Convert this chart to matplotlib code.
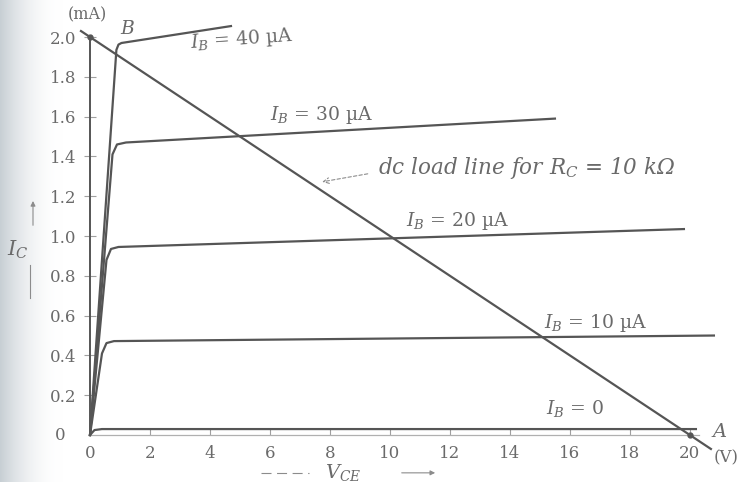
import numpy as np
import matplotlib
matplotlib.use("Agg")
import matplotlib.pyplot as plt

plt.rcParams["font.family"] = ["DejaVu Serif"]
plt.rcParams["mathtext.fontset"] = "dejavuserif"

# Collector characteristics (V_CE in volts, I_C in mA), one curve per base current
ib_labels = ["0", "10", "20", "30", "40"]
curve_v = [
    [0.0, 0.15, 0.4, 20.2],
    [0.0, 0.40, 0.55, 0.8, 20.8],
    [0.0, 0.55, 0.70, 0.95, 19.8],
    [0.0, 0.75, 0.90, 1.2, 15.5],
    [0.0, 0.88, 0.95, 1.05, 4.7],
]
curve_i = [
    [0.0, 0.025, 0.03, 0.03],
    [0.0, 0.41, 0.462, 0.472, 0.50],
    [0.0, 0.88, 0.935, 0.945, 1.035],
    [0.0, 1.41, 1.46, 1.47, 1.59],
    [0.0, 1.935, 1.962, 1.97, 2.055],
]

# dc load line: V_CC = 20 V, R_C = 10 kOhm
vcc = 20.0
rc_kohm = 10.0
load_v = np.array([-0.3, 20.7])
load_i = vcc / rc_kohm - load_v / rc_kohm

x_ticks = [0, 2, 4, 6, 8, 10, 12, 14, 16, 18, 20]
y_ticks = [0.2, 0.4, 0.6, 0.8, 1.0, 1.2, 1.4, 1.6, 1.8, 2.0]

ink = "#555555"
txt = "#6a6a6a"
faint = "#8c8c8c"

fig = plt.figure(figsize=(7.46, 4.82), dpi=100)
ax = fig.add_axes([0, 0, 1, 1])
ax.set_xlim(-3.0, 21.87)
ax.set_ylim(-0.236, 2.186)

# soft grey shading along the left margin
grad = np.linspace(0, 1, 256)
shade = np.clip(1 - grad, 0, 1) ** 2
rgb = np.ones((1, 256, 3))
rgb[0, :, 0] = 1 - 0.22 * shade
rgb[0, :, 1] = 1 - 0.19 * shade
rgb[0, :, 2] = 1 - 0.17 * shade
ax.imshow(rgb, extent=(-3.0, -0.9, -0.236, 2.186), aspect="auto", zorder=0)

for s in ["top", "right"]:
    ax.spines[s].set_visible(False)
ax.spines["left"].set_position(("data", 0))
ax.spines["bottom"].set_position(("data", 0))
ax.spines["left"].set_bounds(0, 2.0)
ax.spines["bottom"].set_bounds(0, 20.3)
ax.spines["left"].set_color(ink)
ax.spines["left"].set_linewidth(1.4)
ax.spines["bottom"].set_color("#b0b0b0")
ax.spines["bottom"].set_linewidth(0.9)

ax.set_xticks(x_ticks)
ax.set_xticklabels([str(t) for t in x_ticks])
ax.set_yticks(y_ticks)
ax.set_yticklabels([f"{t:.1f}" for t in y_ticks])
ax.tick_params(axis="x", direction="in", length=4, width=0.8, color="#a0a0a0",
               labelsize=12, labelcolor=txt, pad=7)
ax.tick_params(axis="y", direction="inout", length=8, width=0.8, color="#a0a0a0",
               labelsize=12, labelcolor=txt, pad=6)
ax.text(-1.0, 0.0, "0", color=txt, fontsize=12, ha="center", va="center")

for v, i in zip(curve_v, curve_i):
    ax.plot(v, i, color=ink, lw=1.6, solid_joinstyle="round", zorder=3)

ax.plot(load_v, load_i, color=ink, lw=1.6, zorder=3)
ax.plot([0, vcc], [vcc / rc_kohm, 0], "o", color=ink, ms=3.5, zorder=4)

# curve labels
lab_kw = dict(color=txt, fontsize=13.5, zorder=5, va="center")
ax.text(3.3, 1.99, r"$I_B$ = 40 µA", rotation=4, **lab_kw)
ax.text(6.0, 1.61, r"$I_B$ = 30 µA", **lab_kw)
ax.text(10.55, 1.075, r"$I_B$ = 20 µA", **lab_kw)
ax.text(15.15, 0.565, r"$I_B$ = 10 µA", **lab_kw)
ax.text(15.2, 0.135, r"$I_B$ = 0", **lab_kw)
ax.text(1.0, 2.04, "B", color=txt, fontsize=13.5, style="italic", va="center", zorder=5)
ax.text(20.75, 0.015, "A", color=txt, fontsize=14, style="italic", va="center", zorder=5)
ax.text(-0.1, 2.11, "(mA)", color=txt, fontsize=11.5, ha="center", va="center")
ax.text(20.8, -0.116, "(V)", color=txt, fontsize=12, ha="left", va="center")

ax.text(9.6, 1.34, r"dc load line for $R_C$ = 10 kΩ", color=txt, fontsize=15.5,
        style="italic", va="center", zorder=5)
ax.annotate("", xy=(7.65, 1.27), xytext=(9.35, 1.315),
            arrowprops=dict(arrowstyle="->", color=faint, lw=0.8, linestyle=(0, (3, 2))))

# axis titles with their arrows
ax.text(-2.4, 0.93, r"$I_C$", color=txt, fontsize=15, ha="center", va="center")
ax.annotate("", xy=(-1.9, 1.19), xytext=(-1.9, 1.04),
            arrowprops=dict(arrowstyle="-|>", color=faint, lw=0.8, mutation_scale=7))
ax.plot([-2.0, -2.0], [0.69, 0.855], color=faint, lw=0.8)

ax.text(8.45, -0.214, r"$V_{CE}$", color=txt, fontsize=14, ha="center", va="baseline")
ax.plot([5.7, 7.3], [-0.19, -0.19], color=faint, lw=0.8, linestyle=(0, (9, 5)))
ax.annotate("", xy=(11.6, -0.19), xytext=(10.3, -0.19),
            arrowprops=dict(arrowstyle="-|>", color=faint, lw=0.8, mutation_scale=7))

fig.savefig("out.png", dpi=100)
